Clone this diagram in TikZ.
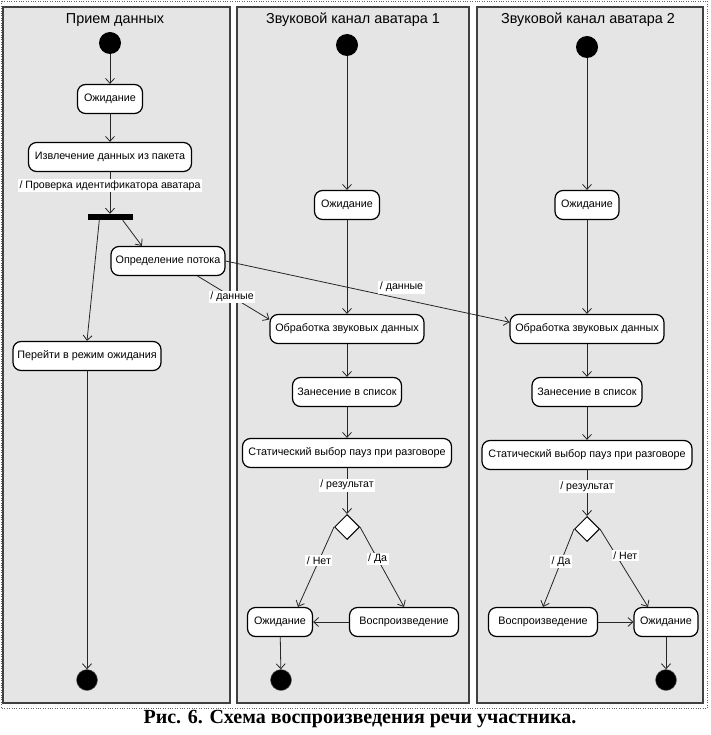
\documentclass[tikz,border=0pt]{standalone}
\usepackage{fontspec}
\setmainfont{Liberation Sans}
\newfontfamily\captionfont{Liberation Serif}
\usetikzlibrary{arrows.meta,shapes.geometric}

\begin{document}
\begin{tikzpicture}[x=1pt, y=-1pt, >={Straight Barb[length=5pt,width=9pt]}]
		\tikzstyle{every node}=[align=center, inner sep=1pt, font=\fontsize{10.8}{12}\selectfont]
		\tikzstyle{lane}=[draw=black!75, line width=1.5pt, fill=black!10]
		\tikzstyle{lanetitle}=[font=\fontsize{14.4}{16}\selectfont]
		\tikzstyle{activity}=[draw, line width=1.2pt, fill=white, rounded corners=8pt, minimum height=29pt, inner xsep=3pt]
		\tikzstyle{startdot}=[circle, fill=black, minimum size=22pt, inner sep=0pt]
		\tikzstyle{enddot}=[circle, fill=black, draw=black!60, minimum size=21pt, inner sep=0pt]
		\tikzstyle{forkbar}=[fill=black, minimum width=45pt, minimum height=6pt, inner sep=0pt]
		\tikzstyle{decision}=[diamond, draw, line width=1pt, fill=white, minimum size=25pt, inner sep=0pt]
		\tikzstyle{guard}=[fill=white, inner sep=1.5pt, font=\fontsize{10.6}{12}\selectfont]
		\tikzstyle{flowline}=[->, draw=black!85, line width=0.8pt]

		\useasboundingbox (0, 0) rectangle (710, 735);
		\draw [dotted, black!60] (1, 1) rectangle (707, 708);
		\draw [lane] (3, 7) rectangle (230, 703);
		\draw [lane] (237, 7) rectangle (469, 703);
		\draw [lane] (477, 7) rectangle (703, 703);

		\node [lanetitle] (t1) at (115, 20) {Прием данных};
		\node [lanetitle] (t2) at (353, 20) {Звуковой канал аватара 1};
		\node [lanetitle] (t3) at (588, 20) {Звуковой канал аватара 2};

		% Прием данных
		\node [startdot] (s1) at (110, 43) {};
		\node [activity, minimum width=65] (w1) at (110, 99) {Ожидание};
		\node [activity, minimum width=163] (ex) at (110, 157) {Извлечение данных из пакета};
		\node [forkbar] (fb) at (110, 217) {};
		\node [activity, minimum width=114] (th) at (168, 261) {Определение потока};
		\node [activity, minimum width=148] (gi) at (87, 356) {Перейти в режим ожидания};
		\node [enddot] (f1) at (87, 680) {};

		% канал 1
		\node [startdot] (s2) at (347, 45) {};
		\node [activity, minimum width=65] (w2) at (347, 205) {Ожидание};
		\node [activity, minimum width=154] (p2) at (347, 329) {Обработка звуковых данных};
		\node [activity, minimum width=109] (l2) at (347, 392) {Занесение в список};
		\node [activity, minimum width=209] (st2) at (347, 453) {Статический выбор пауз при разговоре};
		\node [decision] (d2) at (347, 527) {};
		\node [activity, minimum width=65] (wa2) at (280, 622) {Ожидание};
		\node [activity, minimum width=109] (pl2) at (404, 622) {Воспроизведение};
		\node [enddot] (f2) at (281, 680) {};

		% канал 2
		\node [startdot] (s3) at (587, 47) {};
		\node [activity, minimum width=64] (w3) at (587, 205) {Ожидание};
		\node [activity, minimum width=154] (p3) at (587, 329) {Обработка звуковых данных};
		\node [activity, minimum width=110] (l3) at (587, 392) {Занесение в список};
		\node [activity, minimum width=210] (st3) at (587, 455) {Статический выбор пауз при разговоре};
		\node [decision] (d3) at (587, 529) {};
		\node [activity, minimum width=109] (pl3) at (543, 622) {Воспроизведение};
		\node [activity, minimum width=64] (wb3) at (666, 622) {Ожидание};
		\node [enddot] (f3) at (666, 680) {};

		\draw [flowline] (s1) -- (w1);
		\draw [flowline] (w1) -- (ex);
		\draw [flowline] (ex) -- node [guard, pos=0.33] {/ Проверка идентификатора аватара} (fb);
		\draw [flowline] ([xshift=-10pt]fb.south east) -- (th.150);
		\draw [flowline] ([xshift=12pt]fb.south west) -- (gi.north);
		\draw [flowline] (gi) -- (f1);

		\draw [flowline] (th.east) -- node [guard, pos=0.62, above=5pt] {/ данные} (p3.175);
		\draw [flowline] (th.-27) -- node [guard, pos=0.48] {/ данные} (p2.173);

		\draw [flowline] (s2) -- (w2);
		\draw [flowline] (w2) -- (p2);
		\draw [flowline] (p2) -- (l2);
		\draw [flowline] (l2) -- (st2);
		\draw [flowline] (st2) -- node [guard, pos=0.37] {/ результат} (d2);
		\draw [flowline] (d2.west) -- node [guard, pos=0.42] {/ Нет} (wa2.40);
		\draw [flowline] (d2.east) -- node [guard, pos=0.4] {/ Да} (pl2.north);
		\draw [flowline] (pl2) -- (wa2);
		\draw [flowline] (wa2) -- (f2);

		\draw [flowline] (s3) -- (w3);
		\draw [flowline] (w3) -- (p3);
		\draw [flowline] (p3) -- (l3);
		\draw [flowline] (l3) -- (st3);
		\draw [flowline] (st3) -- node [guard, pos=0.36] {/ результат} (d3);
		\draw [flowline] (d3.west) -- node [guard, pos=0.42] {/ Да} (pl3.north);
		\draw [flowline] (d3.east) -- node [guard, pos=0.34, xshift=9pt] {/ Нет} (wb3.140);
		\draw [flowline] (pl3) -- (wb3);
		\draw [flowline] (wb3) -- (f3);

		\node [font=\captionfont\bfseries\fontsize{20}{22}\selectfont] (cap) at (360, 719) {Рис. 6. Схема воспроизведения речи участника.};
	\end{tikzpicture}
\end{document}
